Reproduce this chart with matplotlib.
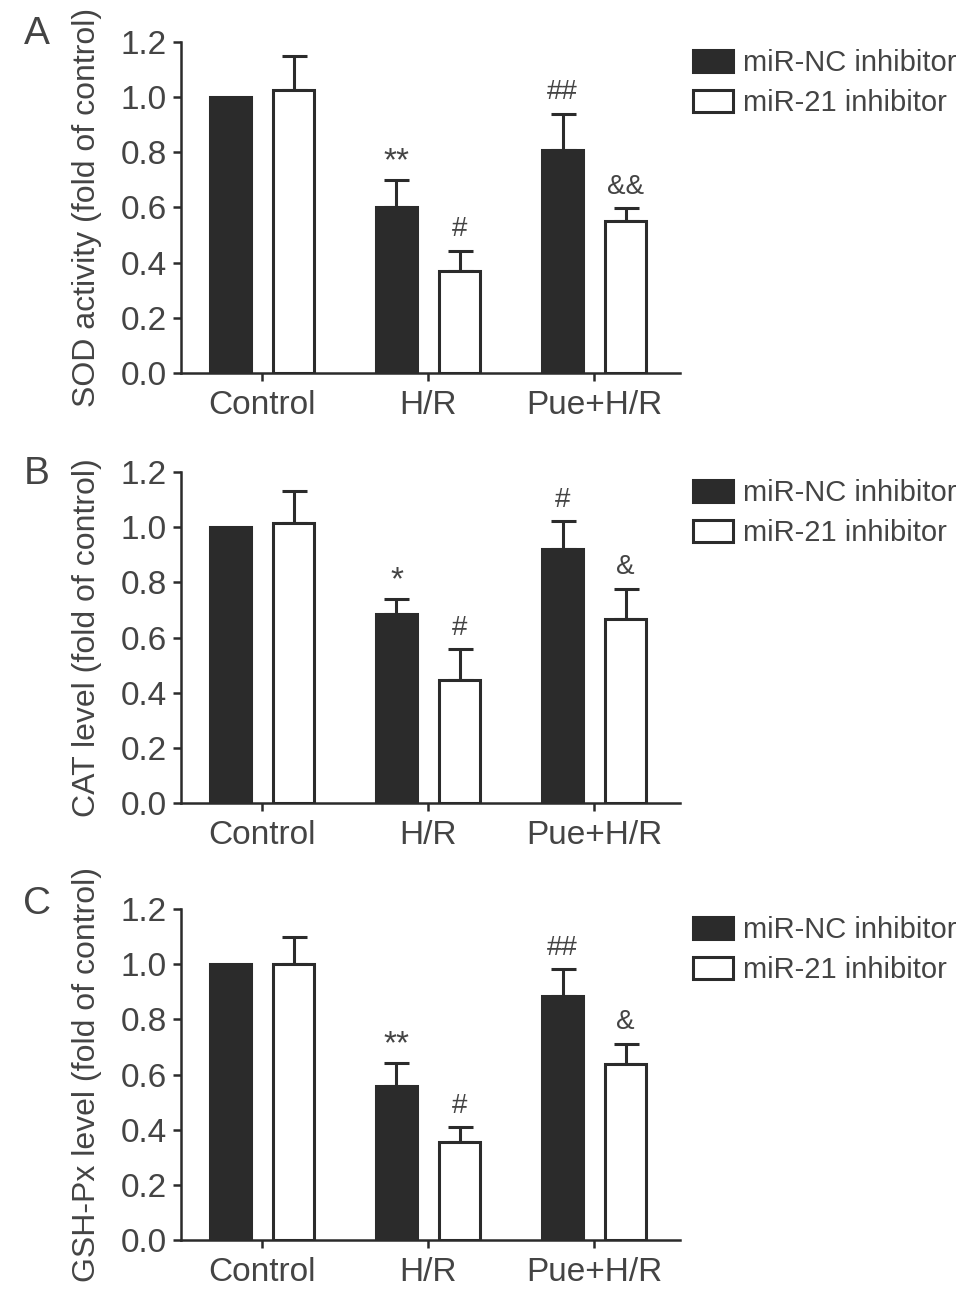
import numpy as np
import matplotlib
matplotlib.use('Agg')
import matplotlib.pyplot as plt

plt.rcParams['font.family'] = ['Liberation Sans', 'DejaVu Sans']

groups = ['Control', 'H/R', 'Pue+H/R']
series = ['miR-NC inhibitor', 'miR-21 inhibitor']

# panel A - SOD
sod_nc = [1.00, 0.60, 0.81]
sod_nc_err = [0.0, 0.10, 0.13]
sod_21 = [1.025, 0.37, 0.552]
sod_21_err = [0.123, 0.073, 0.046]
sod_marks_nc = ['', '**', '##']
sod_marks_21 = ['', '#', '&&']

# panel B - CAT
cat_nc = [1.00, 0.685, 0.921]
cat_nc_err = [0.0, 0.053, 0.10]
cat_21 = [1.015, 0.445, 0.667]
cat_21_err = [0.115, 0.113, 0.11]
cat_marks_nc = ['', '*', '#']
cat_marks_21 = ['', '#', '&']

# panel C - GSH-Px
gsh_nc = [1.00, 0.557, 0.883]
gsh_nc_err = [0.0, 0.085, 0.10]
gsh_21 = [1.00, 0.356, 0.637]
gsh_21_err = [0.10, 0.054, 0.075]
gsh_marks_nc = ['', '**', '##']
gsh_marks_21 = ['', '#', '&']

ylabels = ['SOD activity (fold of control)',
           'CAT level (fold of control)',
           'GSH-Px level (fold of control)']
letters = ['A', 'B', 'C']

txt = '#444444'
dark = '#2b2b2b'

fig = plt.figure(figsize=(9.69, 12.99), dpi=100)
bottoms = [0.7129, 0.3818, 0.0454]
panels = [
    (sod_nc, sod_nc_err, sod_21, sod_21_err, sod_marks_nc, sod_marks_21),
    (cat_nc, cat_nc_err, cat_21, cat_21_err, cat_marks_nc, cat_marks_21),
    (gsh_nc, gsh_nc_err, gsh_21, gsh_21_err, gsh_marks_nc, gsh_marks_21),
]
letter_y = [0.974, 0.635, 0.304]

x = np.arange(len(groups))
off = 0.19
w = 0.25
lw = 2.2

for i, (nc, nce, m21, m21e, mk_nc, mk_21) in enumerate(panels):
    ax = fig.add_axes([0.1868, bottoms[i], 0.515, 0.2548])
    ax.bar(x - off, nc, w, color=dark, edgecolor=dark, linewidth=lw,
           label=series[0], zorder=3)
    ax.bar(x + off, m21, w, color='white', edgecolor=dark, linewidth=lw,
           label=series[1], zorder=3)

    for xs, vals, errs, marks in [(x - off, nc, nce, mk_nc), (x + off, m21, m21e, mk_21)]:
        for xi, v, e, m in zip(xs, vals, errs, marks):
            if e > 0:
                ax.errorbar(xi, v, yerr=[[0], [e]], fmt='none', ecolor=dark,
                            elinewidth=lw, capsize=9, capthick=lw, zorder=2)
            if m:
                fs = 24 if '*' in m else 20
                dy = 2 if '*' in m else 6
                ax.annotate(m, (xi, v + e), xytext=(0, dy), textcoords='offset points',
                            ha='center', va='bottom', fontsize=fs, color=txt)

    ax.set_xlim(-0.488, 2.518)
    ax.set_ylim(0, 1.2)
    ax.set_yticks(np.arange(0, 1.21, 0.2))
    ax.set_yticklabels(['%.1f' % t for t in np.arange(0, 1.21, 0.2)])
    ax.set_xticks(x)
    ax.set_xticklabels(groups)
    for s in ['top', 'right']:
        ax.spines[s].set_visible(False)
    for s in ['left', 'bottom']:
        ax.spines[s].set_linewidth(1.8)
        ax.spines[s].set_color(dark)
    ax.tick_params(axis='both', labelsize=24, colors=dark, labelcolor=txt,
                   width=1.8, length=6)
    ax.tick_params(axis='y', pad=4)
    ax.tick_params(axis='x', pad=6)
    ax.set_ylabel(ylabels[i], fontsize=23, color=txt)
    ax.yaxis.set_label_coords(-0.158, 0.5)

    ax.legend(loc='upper left', bbox_to_anchor=(1.026, 0.978), frameon=False,
              fontsize=21, handlelength=1.38, handleheight=0.78,
              handletextpad=0.32, labelspacing=0.4, borderpad=0, borderaxespad=0,
              labelcolor=txt)

    fig.text(0.038, letter_y[i], letters[i], fontsize=28, color=txt,
             ha='center', va='center')

fig.savefig('out.png', dpi=100)
